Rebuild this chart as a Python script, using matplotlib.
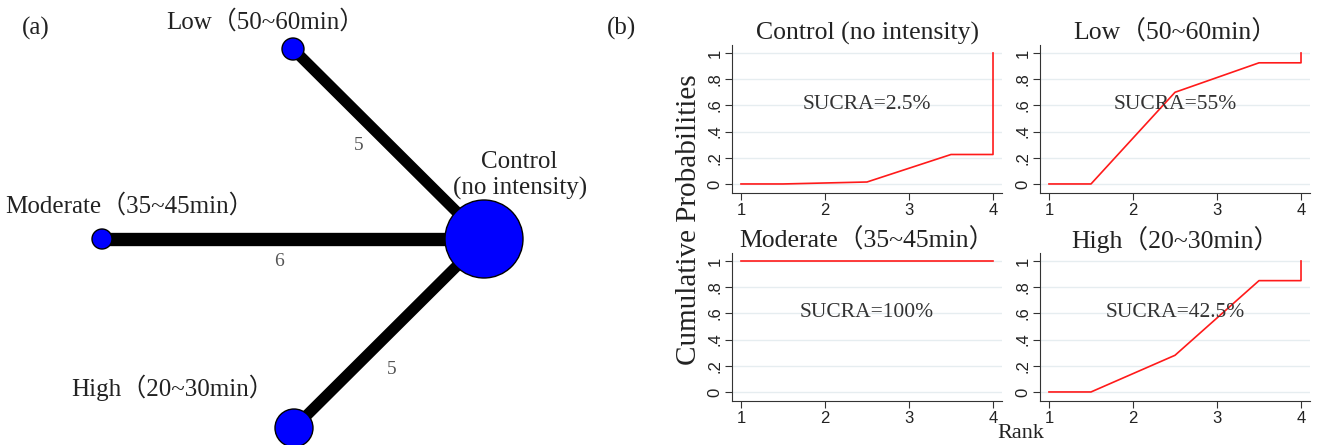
import numpy as np
import matplotlib
matplotlib.use("Agg")
import matplotlib.pyplot as plt
from matplotlib.patches import Circle

SERIF = ['Liberation Serif', 'Noto Sans CJK SC', 'DejaVu Serif']
SANS = ['Liberation Sans Narrow', 'Liberation Sans', 'DejaVu Sans']
plt.rcParams['font.family'] = SERIF

# ---- network data (a) ----
node_names = ['Low（50~60min）', 'Moderate（35~45min）', 'High（20~30min）', 'Control\n(no intensity)']
node_radius = [11, 10, 19, 39]          # drawn node size
edge_pairs = [(0, 3), (1, 3), (2, 3)]
edge_studies = [5, 6, 5]

# ---- cumulative ranking data (b) ----
rank_x = [1, 1.5, 2.5, 3.5, 4, 4]
panel_titles = ['Control (no intensity)', 'Low（50~60min）', 'Moderate（35~45min）', 'High（20~30min）']
cum_prob = {
    'Control (no intensity)': [0, 0, 0.015, 0.225, 0.225, 1.0],
    'Low（50~60min）': [0, 0, 0.70, 0.925, 0.925, 1.0],
    'Moderate（35~45min）': [1.0, 1.0, 1.0, 1.0, 1.0, 1.0],
    'High（20~30min）': [0, 0, 0.28, 0.85, 0.85, 1.0],
}
sucra = ['2.5%', '55%', '100%', '42.5%']

fig = plt.figure(figsize=(13.18, 4.45), dpi=100)

# ===== panel (a): network plot in pixel coordinates =====
axn = fig.add_axes([0, 0, 606 / 1318, 1])
axn.set_xlim(0, 606)
axn.set_ylim(445, 0)
axn.axis('off')

node_xy = [(293, 49), (102, 239), (294, 428), (484, 239)]
for (i, j), n in zip(edge_pairs, edge_studies):
    (x1, y1), (x2, y2) = node_xy[i], node_xy[j]
    axn.plot([x1, x2], [y1, y2], color='black', lw=n * 1.6,
             solid_capstyle='butt', zorder=1)

for (x, y), r in zip(node_xy, node_radius):
    axn.add_patch(Circle((x, y), r, facecolor='#0000ff', edgecolor='black',
                         lw=1.0, zorder=3, clip_on=False))

edge_lbl_xy = [(359, 145), (279, 261), (392, 370)]
for (x, y), n in zip(edge_lbl_xy, edge_studies):
    axn.text(x, y, str(n), color='#555555', fontsize=14, ha='center', va='center')

name_xy = [(265, 22), (130, 206), (173, 388)]
for (x, y), name in zip(name_xy, node_names[:3]):
    axn.text(x, y, name, color='#222222', fontsize=18, ha='center', va='center')
ctrl_lines = node_names[3].split('\n')
axn.text(519, 162, ctrl_lines[0], color='#222222', fontsize=18, ha='center', va='center')
axn.text(520, 188, ctrl_lines[1], color='#222222', fontsize=18, ha='center', va='center')

axn.text(36, 28, '(a)', fontsize=18, ha='center', va='center', color='#222222')
fig.text(621 / 1318, 1 - 28 / 445, '(b)', fontsize=18, ha='center', va='center',
         color='#222222')

# ===== panel (b): cumulative ranking curves =====
lefts = [732, 1040, 732, 1040]
tops = [45, 45, 253, 253]
axw, axh = 270, 148
for k, title in enumerate(panel_titles):
    ax = fig.add_axes([lefts[k] / 1318, 1 - (tops[k] + axh) / 445,
                       axw / 1318, axh / 445])
    ax.plot(rank_x, cum_prob[title], color='#ff1a1a', lw=1.2, zorder=3)
    ax.set_xlim(0.893, 4.107)
    ax.set_ylim(-0.069, 1.061)
    ax.set_xticks([1, 2, 3, 4])
    ax.set_yticks([0, 0.2, 0.4, 0.6, 0.8, 1.0])
    ax.set_yticklabels(['0', '.2', '.4', '.6', '.8', '1'], rotation=90, va='center')
    ax.grid(axis='y', color='#e6edf0', lw=1.0, zorder=0)
    ax.spines['top'].set_visible(False)
    ax.spines['right'].set_visible(False)
    for s in ('left', 'bottom'):
        ax.spines[s].set_color('#333333')
    ax.tick_params(direction='out', length=5, color='#333333', labelcolor='#222222',
                   labelsize=12, pad=2)
    for lb in ax.get_xticklabels() + ax.get_yticklabels():
        lb.set_family(SANS)
    ax.set_title(title, fontsize=18.5, color='#222222', pad=2)
    ax.text(0.5, 0.6, 'SUCRA=' + sucra[k], transform=ax.transAxes, fontsize=15.5,
            ha='center', va='center', color='#333333', zorder=4)

fig.text(689 / 1318, 1 - 220 / 445, 'Cumulative Probabilities', rotation=90,
         fontsize=21, ha='center', va='center', color='#222222')
fig.text(1021 / 1318, 1 - 433 / 445, 'Rank', fontsize=16, ha='center', va='center',
         color='#222222')

fig.savefig('out.png', dpi=100)
